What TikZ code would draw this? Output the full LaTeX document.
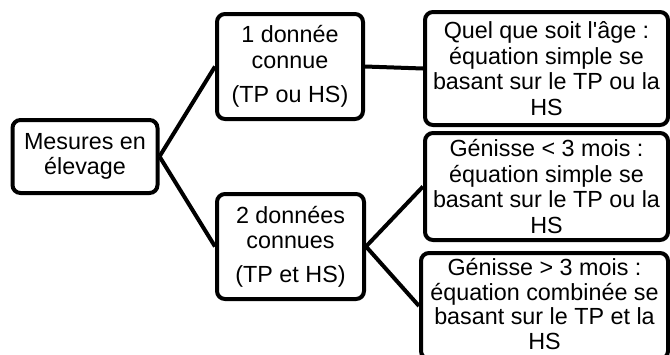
\documentclass[tikz,border=0pt]{standalone}
\usepackage{fontspec}
\newfontfamily\diagfont{Liberation Sans}
\begin{document}
\begin{tikzpicture}[x=0.75pt,y=-0.75pt,
  box/.style={draw=black,line width=3pt,rounded corners=6pt,fill=white,
    inner sep=0pt,align=center,
    font=\diagfont\fontsize{17.5pt}{19.2pt}\selectfont},
  link/.style={draw=black,line width=3pt}]
\useasboundingbox (0,0) rectangle (670,354);
\node[box,minimum width=108.75pt,minimum height=54.75pt] (root) at (85,156.5) {Mesures en\\élevage};
\node[box,minimum width=109.5pt,minimum height=78.75pt] (one) at (290,66.5) {1 donnée\\connue\\[7pt](TP ou HS)};
\node[box,minimum width=110.25pt,minimum height=78.75pt] (two) at (290.5,246.5) {2 données\\connues\\[6pt](TP et HS)};
\node[box,minimum width=182.25pt,minimum height=84.75pt] (ra) at (546.5,68.5) {Quel que soit l'âge :\\équation simple se\\basant sur le TP ou la\\HS};
\node[box,minimum width=182.25pt,minimum height=80.25pt] (rb) at (546.5,186.5) {Génisse < 3 mois :\\équation simple se\\basant sur le TP ou la\\HS};
\node[box,minimum width=185.25pt,minimum height=79.5pt,
  font=\diagfont\fontsize{17.5pt}{18.3pt}\selectfont] (rc) at (544.5,306) {Génisse > 3 mois :\\équation combinée se\\basant sur le TP et la\\HS\rule[-3pt]{0pt}{0pt}};
\draw[link] (root.east) -- (one.west);
\draw[link] (root.east) -- (two.west);
\draw[link] (one.east) -- (ra.west);
\draw[link] (two.east) -- (rb.west);
\draw[link] (two.east) -- (rc.west);
\end{tikzpicture}
\end{document}
